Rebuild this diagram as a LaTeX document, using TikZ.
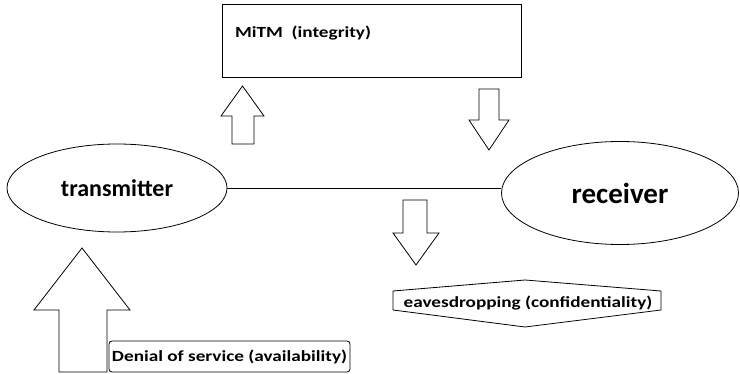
\documentclass[tikz,border=0pt]{standalone}
\usepackage{fontspec}
\setmainfont{Carlito}
\newfontfamily\tagfont[FakeStretch=1.24]{Carlito}
\usetikzlibrary{shapes,calc}

\begin{document}
\begin{tikzpicture}[x=1pt,y=-1pt,
            party/.style={ellipse, draw, thick, inner sep=0pt,
            font=\bfseries\fontsize{24}{28}\selectfont},
            blockarrow/.style={draw, thick, fill=white, line join=miter},
            tag/.style={font=\tagfont\bfseries\fontsize{15.5}{18}\selectfont}]
            \useasboundingbox (0,0) rectangle (740,374);

            \node[party, minimum width=220pt, minimum height=88pt] (tx) at (117,188) {transmitter};
            \node[party, minimum width=237pt, minimum height=103pt,
            font=\bfseries\fontsize{29}{33}\selectfont] (rx) at (620,193) {receiver};
            \draw[thick] (tx.east) -- (rx.west |- tx.east);

            % MiTM box
            \node[draw, thick, minimum width=299pt, minimum height=73pt, inner sep=0pt] (mitm) at (371.5,40.5) {};
            \node[tag, anchor=west] (mitmtxt) at ($(mitm.west)+(10,-7)$) {MiTM~ (integrity)};

            % block arrows
            \draw[blockarrow] (232,144) -- (232,116) -- (221,116) -- (242.5,86) -- (264,116) -- (254,116) -- (254,144) -- cycle;
            \draw[blockarrow] (479,89) -- (479,120) -- (469,120) -- (489,150) -- (509,120) -- (499,120) -- (499,89) -- cycle;
            \draw[blockarrow] (403,200) -- (403,233) -- (393,233) -- (416,265) -- (439,233) -- (427,233) -- (427,200) -- cycle;
            \draw[blockarrow] (59,372) -- (59,310) -- (34,310) -- (82,248) -- (130,310) -- (107,310) -- (107,372) -- cycle;

            % eavesdropping
            \node[tag] (eav) at (528,303) {eavesdropping (confidentiality)};
            \draw[thick] (393,291) -- (525,280) -- (661,291) -- (661,310) -- (525,327) -- (393,310) -- cycle;

            % denial of service
            \node[tag, draw, thick, rounded corners=3pt, minimum width=241pt, minimum height=31pt, inner sep=0pt] (dos) at (229.5,356.5) {Denial of service (availability)};
\end{tikzpicture}
\end{document}
